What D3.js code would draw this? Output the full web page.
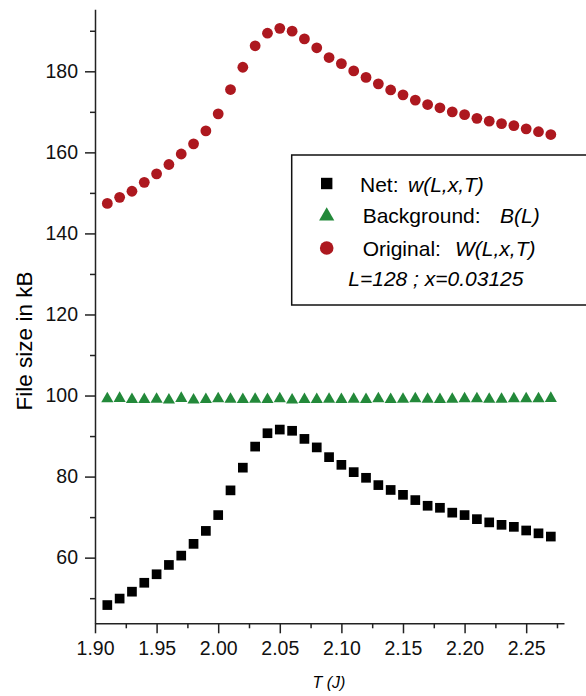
<!DOCTYPE html>
<html>
<head>
<meta charset="utf-8">
<script src="https://cdn.jsdelivr.net/npm/d3@7"></script>
<style>
  body { margin: 0; background: #fff; }
  svg { display: block; font-family: "Liberation Sans", Arial, Helvetica, sans-serif; }
  .axis path, .axis line { stroke: #222; stroke-width: 1.5; }
  .axis text { font-size: 19.5px; fill: #111; }
</style>
</head>
<body>
<script>
var temps = [1.91, 1.92, 1.93, 1.94, 1.95, 1.96, 1.97, 1.98, 1.99, 2.00,
             2.01, 2.02, 2.03, 2.04, 2.05, 2.06, 2.07, 2.08, 2.09, 2.10,
             2.11, 2.12, 2.13, 2.14, 2.15, 2.16, 2.17, 2.18, 2.19, 2.20,
             2.21, 2.22, 2.23, 2.24, 2.25, 2.26, 2.27];

var original = [147.4, 148.9, 150.4, 152.6, 154.7, 157.0, 159.6, 162.1, 165.3, 169.5,
                175.5, 181.0, 186.3, 189.4, 190.6, 189.9, 188.0, 185.8, 183.4, 181.9,
                180.1, 178.5, 176.9, 175.4, 174.2, 172.9, 171.8, 171.0, 170.0, 169.3,
                168.4, 167.7, 167.1, 166.6, 165.8, 165.1, 164.4];

var background = [99.2, 99.3, 99.0, 99.0, 99.1, 98.9, 99.3, 98.9, 99.0, 99.2,
                  99.1, 99.0, 99.1, 99.0, 99.2, 98.9, 99.0, 99.0, 99.1, 99.0,
                  99.1, 99.0, 99.2, 99.0, 99.1, 99.2, 99.1, 99.0, 99.1, 99.2,
                  99.2, 99.1, 99.1, 99.2, 99.2, 99.2, 99.3];

var net = [48.3, 49.9, 51.6, 53.8, 55.9, 58.2, 60.5, 63.4, 66.6, 70.5,
           76.6, 82.2, 87.4, 90.7, 91.6, 91.3, 89.3, 87.2, 84.8, 82.9,
           81.1, 79.7, 77.9, 76.7, 75.5, 74.2, 72.8, 72.3, 71.1, 70.5,
           69.5, 68.7, 68.1, 67.6, 66.7, 66.0, 65.2];

var xMajor = [1.90, 1.95, 2.00, 2.05, 2.10, 2.15, 2.20, 2.25],
    xMinor = [1.925, 1.975, 2.025, 2.075, 2.125, 2.175, 2.225, 2.275],
    yMajor = [60, 80, 100, 120, 140, 160, 180],
    yMinor = [50, 70, 90, 110, 130, 150, 170, 190];

var width = 586,
    height = 696;

var red = '#ad181f',
    green = '#23893a';

var x = d3.scaleLinear()
        .domain([1.90, 2.2807])
        .range([95, 564]);

var y = d3.scaleLinear()
        .domain([43.8, 195.3])
        .range([623.3, 9.3]);

var svg = d3.select('body')
        .append('svg')
         .attr('width', width)
         .attr('height', height);

// minor ticks first, then major ones with labels
svg.append('g')
    .attr('class', 'axis')
    .attr('transform', 'translate(0,' + y.range()[0] + ')')
    .call(d3.axisBottom(x).tickValues(xMinor).tickSize(5).tickFormat(''))
    .select('.domain').remove();

svg.append('g')
    .attr('class', 'axis')
    .attr('transform', 'translate(0,' + y.range()[0] + ')')
    .call(d3.axisBottom(x).tickValues(xMajor).tickSize(10).tickSizeOuter(0)
          .tickPadding(8).tickFormat(d3.format('.2f')));

svg.append('g')
    .attr('class', 'axis')
    .attr('transform', 'translate(' + x.range()[0] + ',0)')
    .call(d3.axisLeft(y).tickValues(yMinor).tickSize(5).tickFormat(''))
    .select('.domain').remove();

svg.append('g')
    .attr('class', 'axis')
    .attr('transform', 'translate(' + x.range()[0] + ',0)')
    .call(d3.axisLeft(y).tickValues(yMajor).tickSize(10).tickSizeOuter(0)
          .tickPadding(7).tickFormat(d3.format('d')));

// axis titles
svg.append('text')
    .attr('transform', 'translate(31.5,341) rotate(-90)')
    .attr('text-anchor', 'middle')
    .style('font-size', '22.5px')
    .text('File size in kB');

svg.append('text')
    .attr('x', 329)
    .attr('y', 687.5)
    .attr('text-anchor', 'middle')
    .style('font-size', '16px')
    .style('font-style', 'italic')
    .text('T (J)');

// data
var pts = temps.map(function(t, i) {
    return { t: t, net: net[i], bg: background[i], orig: original[i] };
});

svg.selectAll('.orig')
    .data(pts)
    .enter()
    .append('circle')
     .attr('class', 'orig')
     .attr('r', 5.4)
     .attr('cx', function(d) { return x(d.t); })
     .attr('cy', function(d) { return y(d.orig); })
     .attr('fill', red);

svg.selectAll('.bg')
    .data(pts)
    .enter()
    .append('path')
     .attr('class', 'bg')
     .attr('d', d3.symbol(d3.symbolTriangle, 64))
     .attr('transform', function(d) { return 'translate(' + x(d.t) + ',' + y(d.bg) + ')'; })
     .attr('fill', green);

svg.selectAll('.net')
    .data(pts)
    .enter()
    .append('path')
     .attr('class', 'net')
     .attr('d', d3.symbol(d3.symbolSquare, 94))
     .attr('transform', function(d) { return 'translate(' + x(d.t) + ',' + y(d.net) + ')'; })
     .attr('fill', '#000');

// legend
var lg = svg.append('g');

lg.append('rect')
    .attr('x', 291.7)
    .attr('y', 155)
    .attr('width', 310)
    .attr('height', 150)
    .attr('fill', '#fff')
    .attr('stroke', '#111')
    .attr('stroke-width', 1.5);

lg.append('path')
    .attr('d', d3.symbol(d3.symbolSquare, 130))
    .attr('transform', 'translate(326.7,183.5)')
    .attr('fill', '#000');
lg.append('path')
    .attr('d', d3.symbol(d3.symbolTriangle, 100))
    .attr('transform', 'translate(326.7,216)')
    .attr('fill', green);
lg.append('circle')
    .attr('r', 6.8)
    .attr('cx', 326.7)
    .attr('cy', 248)
    .attr('fill', red);

var legendText = [
    { x: 360, y: 191.7, t: 'Net:', it: false },
    { x: 408, y: 191.7, t: 'w(L,x,T)', it: true },
    { x: 362.7, y: 223.3, t: 'Background:', it: false },
    { x: 500, y: 223.3, t: 'B(L)', it: true },
    { x: 362.7, y: 255.7, t: 'Original:', it: false },
    { x: 455, y: 255.7, t: 'W(L,x,T)', it: true },
    { x: 348.3, y: 285.7, t: 'L=128 ; x=0.03125', it: true }
];

lg.selectAll('text')
    .data(legendText)
    .enter()
    .append('text')
     .attr('x', function(d) { return d.x; })
     .attr('y', function(d) { return d.y; })
     .style('font-size', '21px')
     .style('font-style', function(d) { return d.it ? 'italic' : 'normal'; })
     .text(function(d) { return d.t; });
</script>
</body>
</html>
